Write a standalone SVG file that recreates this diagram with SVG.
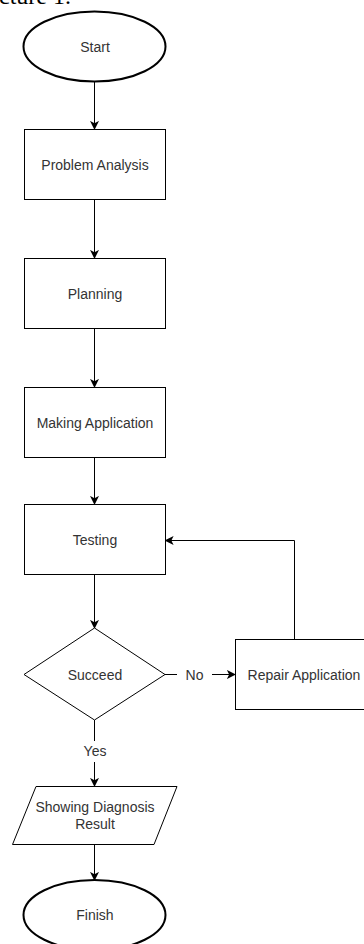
<svg xmlns="http://www.w3.org/2000/svg" width="364" height="944" viewBox="0 0 364 944">
  <style>
    .shape { fill: #ffffff; stroke: #000000; stroke-width: 1; }
    .term { fill: #ffffff; stroke: #000000; stroke-width: 2; }
    .label { font-family: "Liberation Sans", Arial, sans-serif; font-size: 14px; fill: #333333; text-anchor: middle; dominant-baseline: central; }
    .edge { fill: none; stroke: #000000; stroke-width: 1; marker-end: url(#arrow); }
    .caption { font-family: "Liberation Serif", "Times New Roman", serif; font-size: 24px; fill: #000000; }
  </style>
  <defs>
    <marker id="arrow" viewBox="0 0 10 10" refX="9" refY="5" markerWidth="9" markerHeight="9" markerUnits="userSpaceOnUse" orient="auto">
      <path d="M0,0 L10,5 L0,10 L2.5,5 Z" fill="#000000"/>
    </marker>
  </defs>
  <rect x="0" y="0" width="364" height="944" fill="#ffffff"/>

  <!-- figure caption, clipped by the top edge -->
  <text class="caption" x="-1" y="4">cture 1.</text>

  <g id="connectors">
    <path class="edge" d="M94.5,82 L94.5,129"/>
    <path class="edge" d="M94.5,199 L94.5,258"/>
    <path class="edge" d="M94.5,328 L94.5,387"/>
    <path class="edge" d="M94.5,457 L94.5,504"/>
    <path class="edge" d="M94.5,575 L94.5,628"/>
    <path class="edge" d="M165,674.5 L235,674.5"/>
    <path class="edge" d="M294.5,639 L294.5,540.5 L165.5,540.5"/>
    <path class="edge" d="M94.5,720 L94.5,786"/>
    <path class="edge" d="M94.5,844 L94.5,880"/>
    <g id="label-no">
      <rect x="177" y="666" width="35" height="16" fill="#ffffff"/>
      <text class="label" x="194.5" y="674.5">No</text>
    </g>
    <g id="label-yes">
      <rect x="81" y="741" width="28" height="21" fill="#ffffff"/>
      <text class="label" x="95" y="751">Yes</text>
    </g>
  </g>

  <g id="start">
    <ellipse class="term" cx="94.5" cy="46.5" rx="71" ry="35"/>
    <text class="label" x="95" y="47">Start</text>
  </g>
  <g id="problem-analysis">
    <rect class="shape" x="24.5" y="129.5" width="141" height="70"/>
    <text class="label" x="95" y="164.5">Problem Analysis</text>
  </g>
  <g id="planning">
    <rect class="shape" x="24.5" y="258.5" width="141" height="70"/>
    <text class="label" x="95" y="293.5">Planning</text>
  </g>
  <g id="making-application">
    <rect class="shape" x="24.5" y="387.5" width="141" height="70"/>
    <text class="label" x="95" y="422.5">Making Application</text>
  </g>
  <g id="testing">
    <rect class="shape" x="24.5" y="504.5" width="141" height="70"/>
    <text class="label" x="95" y="539.5">Testing</text>
  </g>
  <g id="succeed">
    <polygon class="shape" points="94.5,628 165,674.5 94.5,720 24,674.5"/>
    <text class="label" x="95" y="674.5">Succeed</text>
  </g>
  <g id="repair-application">
    <rect class="shape" x="235.5" y="639.5" width="141" height="70"/>
    <text class="label" x="304" y="674.5">Repair Application</text>
  </g>
  <g id="showing-diagnosis-result">
    <polygon class="shape" points="36,786.5 177,786.5 154,844.5 12.5,844.5"/>
    <text class="label" x="95" y="807">Showing Diagnosis</text>
    <text class="label" x="95" y="824">Result</text>
  </g>
  <g id="finish">
    <ellipse class="term" cx="94.5" cy="915" rx="71" ry="35"/>
    <text class="label" x="95" y="915">Finish</text>
  </g>
</svg>
